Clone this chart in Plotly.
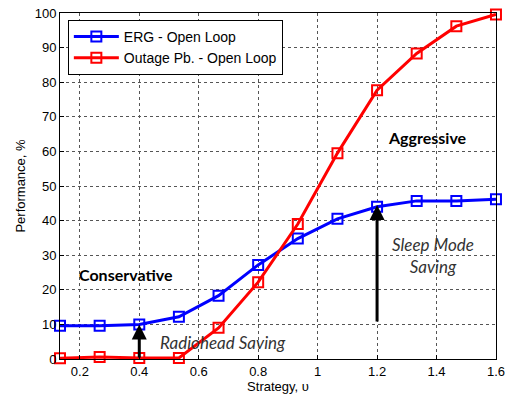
import plotly.graph_objects as go

strategy = [0.1333, 0.2667, 0.4, 0.5333, 0.6667, 0.8, 0.9333, 1.0667, 1.2, 1.3333, 1.4667, 1.6]
erg = [9.6, 9.6, 10.0, 12.2, 18.3, 27.2, 34.8, 40.5, 44.0, 45.7, 45.7, 46.2]
outage = [0.2, 0.6, 0.3, 0.3, 9.0, 22.2, 39.0, 59.5, 77.7, 88.3, 96.2, 99.6]
x_ticks = [0.2, 0.4, 0.6, 0.8, 1.0, 1.2, 1.4, 1.6]
x_ticklabels = ["0.2", "0.4", "0.6", "0.8", "1", "1.2", "1.4", "1.6"]
y_ticks = [0, 10, 20, 30, 40, 50, 60, 70, 80, 90, 100]

fig = go.Figure()
fig.add_trace(go.Scatter(x=strategy, y=erg, mode="lines+markers", name="ERG - Open Loop",
                         line=dict(color="#0000ff", width=3),
                         marker=dict(symbol="square-open", size=10, color="#0000ff", line=dict(width=2)),
                         cliponaxis=False))
fig.add_trace(go.Scatter(x=strategy, y=outage, mode="lines+markers", name="Outage Pb. - Open Loop",
                         line=dict(color="#ff0000", width=3),
                         marker=dict(symbol="square-open", size=10, color="#ff0000", line=dict(width=2)),
                         cliponaxis=False))

arrow = dict(showarrow=True, arrowhead=2, arrowsize=1, arrowwidth=3, arrowcolor="black",
             xref="x", yref="y", axref="x", ayref="y", text="")
fig.add_annotation(x=0.4, y=10, ax=0.4, ay=0, **arrow)
fig.add_annotation(x=1.2, y=44.5, ax=1.2, ay=10.4, **arrow)

fig.add_annotation(x=0.357, y=24.3, text="<b>Conservative</b>", showarrow=False,
                   font=dict(family="Lato", size=16, color="black"))
fig.add_annotation(x=1.37, y=64, text="<b>Aggressive</b>", showarrow=False,
                   font=dict(family="Lato", size=16, color="black"))
fig.add_annotation(x=1.387, y=29.8, text="<i>Sleep Mode<br>Saving</i>", showarrow=False,
                   font=dict(family="Lato", size=17, color="#333333"))
fig.add_annotation(x=0.68, y=4.9, text="<i>Radiohead Saving</i>", showarrow=False,
                   font=dict(family="Lato", size=17, color="#333333"))

axis_common = dict(showline=True, linecolor="black", linewidth=1, mirror=True,
                   showgrid=True, gridcolor="#555555", griddash="dot", gridwidth=1,
                   ticks="inside", ticklen=4, tickcolor="black", zeroline=False,
                   tickfont=dict(family="Liberation Sans", size=13, color="black"))
fig.update_xaxes(range=[0.1333, 1.6001], tickvals=x_ticks, ticktext=x_ticklabels,
                 ticklabeloverflow="allow",
                 title=dict(text="Strategy, υ", font=dict(family="Liberation Sans", size=13, color="black"), standoff=4),
                 **axis_common)
fig.update_yaxes(range=[0, 100], tickvals=y_ticks,
                 title=dict(text="Performance, %", font=dict(family="Liberation Sans", size=13, color="black"), standoff=6),
                 **axis_common)

fig.update_layout(width=507, height=405, margin=dict(l=60, r=11, t=13, b=46, autoexpand=False),
                  paper_bgcolor="white", plot_bgcolor="white",
                  legend=dict(x=0.018, y=0.98, xanchor="left", yanchor="top", itemwidth=45,
                              bgcolor="white", bordercolor="black", borderwidth=1,
                              font=dict(family="Liberation Sans", size=14, color="black")),
                  showlegend=True)
fig.write_html("out.html", config={"displayModeBar": False},
               post_script="document.body.style.margin='0';document.body.style.overflow='hidden';")
